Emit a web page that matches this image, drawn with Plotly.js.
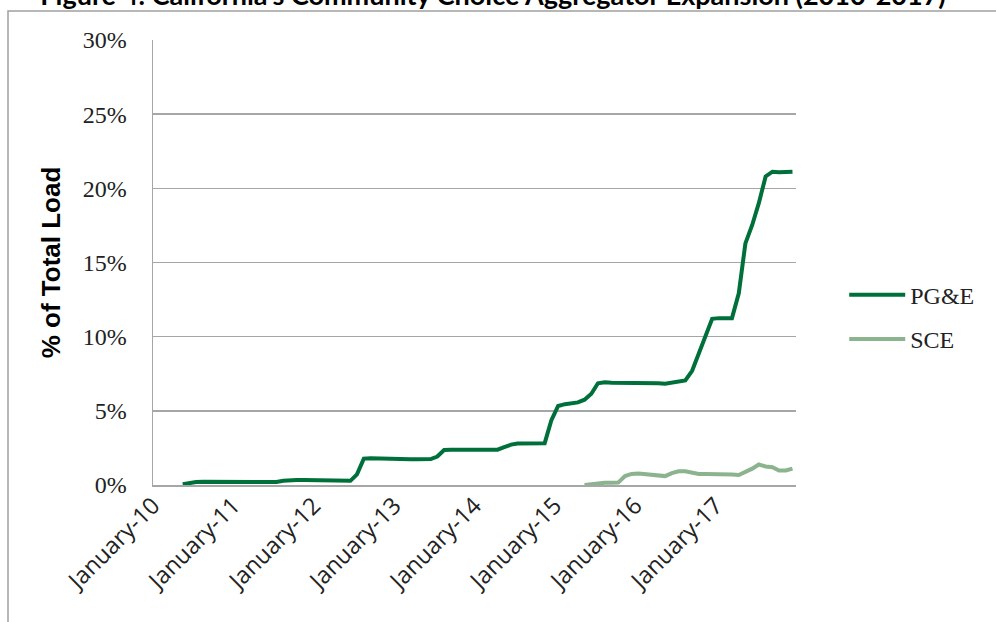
<!DOCTYPE html>
<html>
<head>
<meta charset="utf-8">
<script src="https://cdn.plot.ly/plotly-3.0.1.min.js"></script>
<style>
  html, body { margin: 0; padding: 0; background: #ffffff; }
  #chart { width: 996px; height: 622px; }
</style>
</head>
<body>
<div id="chart"></div>
<script>
// ---- Data (percent of total load, monthly) ----
var pgeStart = [2010, 5];   // May 2010
var pgeValues = [
  0.05, 0.15, 0.2, 0.22, 0.22, 0.2, 0.2, 0.2,
  0.2, 0.2, 0.2, 0.2, 0.2, 0.2, 0.2, 0.28, 0.33, 0.33, 0.33, 0.32,
  0.31, 0.3, 0.3, 0.29, 0.28, 0.28, 0.72, 1.78, 1.8, 1.78, 1.77, 1.76,
  1.75, 1.75, 1.74, 1.73, 1.73, 1.75, 1.92, 2.36, 2.37, 2.37, 2.37, 2.37,
  2.37, 2.37, 2.37, 2.38, 2.55, 2.72, 2.8, 2.8, 2.79, 2.8, 2.82, 4.35,
  5.33, 5.45, 5.5, 5.57, 5.75, 6.15, 6.86, 6.92, 6.9, 6.9, 6.91, 6.91,
  6.91, 6.9, 6.88, 6.86, 6.83, 6.9, 7.0, 7.05, 7.7, 8.8, 10.1, 11.2,
  11.25, 11.25, 11.25, 12.92, 16.29, 17.53, 19.0, 20.8, 21.12, 21.08, 21.08, 21.12
];
var sceStart = [2015, 5];   // May 2015
var sceValues = [
  0.0, 0.05, 0.15, 0.15, 0.15, 0.16, 0.6, 0.75,
  0.78, 0.72, 0.7, 0.65, 0.6, 0.8, 0.92, 0.92, 0.82, 0.74, 0.74, 0.74,
  0.74, 0.73, 0.7, 0.67, 0.85, 1.1, 1.38, 1.25, 1.2, 0.98, 0.98, 1.1
];
var seriesNames = ['PG&E', 'SCE'];
var tickDates = ['2010-01-01','2011-01-01','2012-01-01','2013-01-01','2014-01-01','2015-01-01','2016-01-01','2017-01-01'];
var tickLabels = ['January-10','January-11','January-12','January-13','January-14','January-15','January-16','January-17'];
var yTicks = [0, 5, 10, 15, 20, 25, 30];
var yTickLabels = ['0%', '5%', '10%', '15%', '20%', '25%', '30%'];

// monthly category dates (middle of each month)
function monthDates(start, n) {
  var out = [];
  var y = start[0], m = start[1];
  for (var i = 0; i < n; i++) {
    out.push(y + '-' + (m < 10 ? '0' + m : m) + '-16');
    m++; if (m > 12) { m = 1; y++; }
  }
  return out;
}

var traces = [
  {
    x: monthDates(pgeStart, pgeValues.length), y: pgeValues,
    name: seriesNames[0], type: 'scatter', mode: 'lines',
    line: { color: '#00703a', width: 4 }, legendgroup: 'a'
  },
  {
    x: monthDates(sceStart, sceValues.length), y: sceValues,
    name: seriesNames[1], type: 'scatter', mode: 'lines',
    line: { color: '#8bb38d', width: 4 }, legendgroup: 'b'
  }
];

var layout = {
  width: 996, height: 622,
  margin: { l: 153, r: 200, t: 40, b: 137 },
  paper_bgcolor: '#ffffff', plot_bgcolor: '#ffffff',
  title: {
    text: "Figure 4: California's Community Choice Aggregator Expansion (2010-2017)",
    font: { family: 'Lato, "Liberation Sans", sans-serif', size: 27, color: '#000000', weight: 'bold' },
    x: 0.495, xref: 'container', xanchor: 'center',
    y: 1, yref: 'paper', yanchor: 'bottom', pad: { b: 35 }
  },
  xaxis: {
    type: 'date',
    range: ['2010-01-01', '2018-01-01'],
    tickvals: tickDates, ticktext: tickLabels,
    tickangle: -45,
    ticks: '', ticklabelstandoff: -4,
    tickfont: { family: '"Open Sans", sans-serif', size: 23.5, color: '#222222' },
    showgrid: false, zeroline: false,
    showline: true, linecolor: '#a6a6a6', linewidth: 1.5,
    fixedrange: true
  },
  yaxis: {
    range: [0, 30],
    tickvals: yTicks, ticktext: yTickLabels,
    ticks: 'outside', ticklen: 20, tickcolor: 'rgba(0,0,0,0)',
    tickfont: { family: '"Liberation Serif", serif', size: 24, color: '#222222' },
    showgrid: true, gridcolor: '#a6a6a6', gridwidth: 1.5,
    zeroline: false,
    showline: true, linecolor: '#a6a6a6', linewidth: 1.5,
    title: {
      text: '% of Total Load',
      font: { family: '"Liberation Sans", sans-serif', size: 26, color: '#000000', weight: 'bold' },
      standoff: 14
    },
    fixedrange: true
  },
  showlegend: true,
  legend: {
    x: 1.075, xanchor: 'left', y: 0.377, yanchor: 'middle',
    font: { family: '"Liberation Serif", serif', size: 24, color: '#222222' },
    tracegroupgap: 10, itemwidth: 56, bgcolor: 'rgba(0,0,0,0)', traceorder: 'grouped'
  },
  shapes: [
    {
      type: 'rect', xref: 'paper', yref: 'paper',
      x0: -0.2255, x1: 1.5, y0: -0.5, y1: 1.0652,
      line: { color: '#a0a0a0', width: 1.5 }, fillcolor: 'rgba(0,0,0,0)', layer: 'below'
    }
  ]
};

Plotly.newPlot('chart', traces, layout, { displayModeBar: false, staticPlot: true });
</script>
</body>
</html>
